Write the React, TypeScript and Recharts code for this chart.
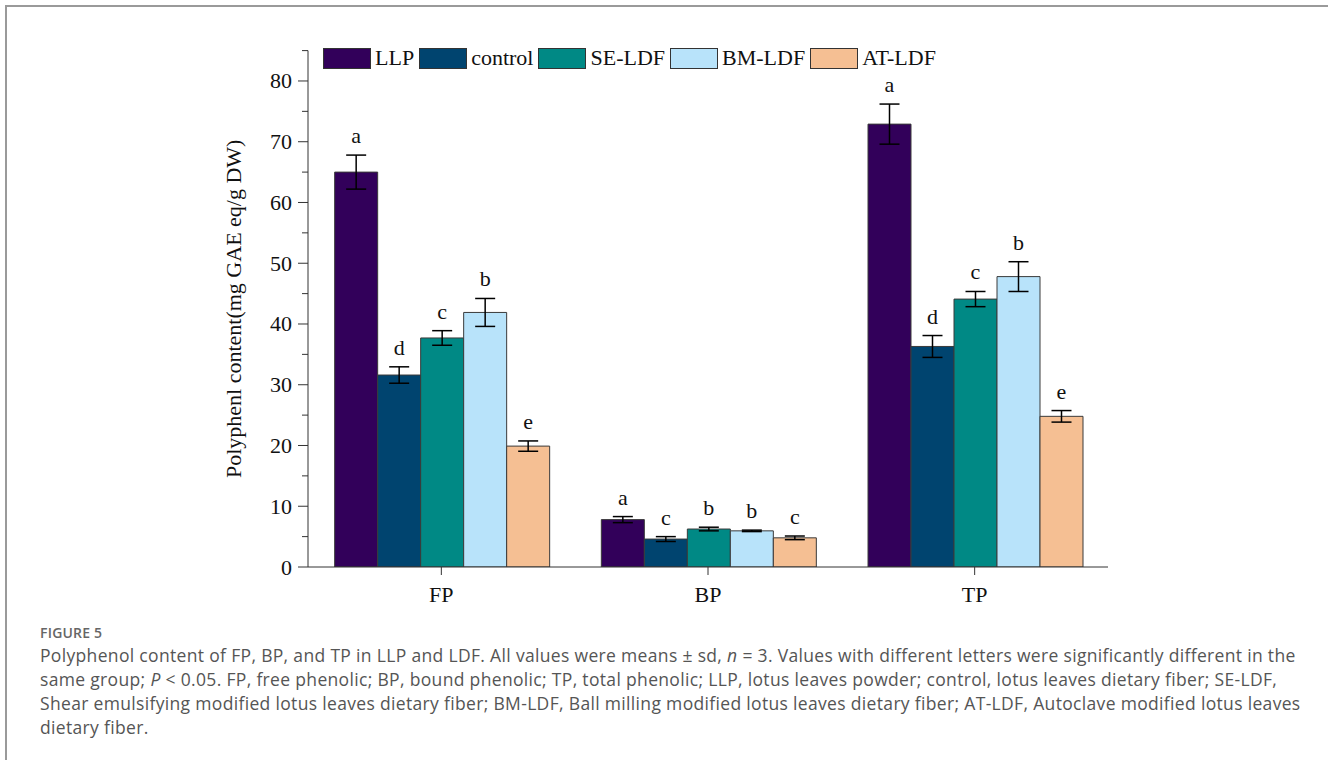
import React from 'react';
import { BarChart, Bar, XAxis, YAxis, ErrorBar, LabelList } from 'recharts';

// Groups on the x axis
const categories = ['FP', 'BP', 'TP'];

// Means (mg GAE eq/g DW), standard deviations and significance letters per sample
const llp = [65.0, 7.8, 72.9];
const llpSd = [2.8, 0.5, 3.3];
const llpSig = ['a', 'a', 'a'];

const control = [31.6, 4.6, 36.3];
const controlSd = [1.35, 0.4, 1.8];
const controlSig = ['d', 'c', 'd'];

const seLdf = [37.7, 6.25, 44.1];
const seLdfSd = [1.2, 0.3, 1.25];
const seLdfSig = ['c', 'b', 'c'];

const bmLdf = [41.9, 5.95, 47.8];
const bmLdfSd = [2.3, 0.12, 2.45];
const bmLdfSig = ['b', 'b', 'b'];

const atLdf = [19.9, 4.8, 24.8];
const atLdfSd = [0.85, 0.3, 0.95];
const atLdfSig = ['e', 'c', 'e'];

const yTicks = [0, 5, 10, 15, 20, 25, 30, 35, 40, 45, 50, 55, 60, 65, 70, 75, 80, 85];

const seriesList = [
  { key: 'LLP', values: llp, sd: llpSd, letters: llpSig, color: '#32005a' },
  { key: 'control', values: control, sd: controlSd, letters: controlSig, color: '#00446f' },
  { key: 'SE-LDF', values: seLdf, sd: seLdfSd, letters: seLdfSig, color: '#008985' },
  { key: 'BM-LDF', values: bmLdf, sd: bmLdfSd, letters: bmLdfSig, color: '#b8e3fa' },
  { key: 'AT-LDF', values: atLdf, sd: atLdfSd, letters: atLdfSig, color: '#f5bf93' },
];

const data = categories.map((group, i) => {
  const row: Record<string, any> = { group };
  seriesList.forEach((s) => {
    row[s.key] = s.values[i];
    row[s.key + '_sd'] = s.sd[i];
    row[s.key + '_sig'] = s.letters[i];
  });
  return row;
});

const SERIF = "'Liberation Serif', 'Times New Roman', serif";
const SANS = "'Open Sans', Lato, sans-serif";
const INK = '#111';
const AXIS = '#333';

// Y ticks: labelled major ticks every 10, short minor ticks in between
const YTick = (props: any) => {
  const { x, y, payload } = props;
  const v = payload.value;
  const major = v % 10 === 0 && v <= 80;
  const len = major ? 10 : 6;
  return (
    <g>
      <line x1={x - len} y1={y} x2={x} y2={y} stroke={AXIS} strokeWidth={1} />
      {major && (
        <text x={x - 16} y={y} textAnchor="end" dominantBaseline="central" fontFamily={SERIF} fontSize={22} fill={INK}>
          {v}
        </text>
      )}
    </g>
  );
};

// Significance letter placed just above the top of the error bar
const makeLetter = (s: (typeof seriesList)[number]) => (props: any) => {
  const { x, y, width, height, index, value } = props;
  const v = s.values[index];
  const pxPerUnit = Math.abs(height) / v;
  const errTop = y - s.sd[index] * pxPerUnit;
  return (
    <text x={x + width / 2} y={errTop - 12} textAnchor="middle" fontFamily={SERIF} fontSize={22} fill={INK}>
      {value}
    </text>
  );
};

const LegendRow = () => (
  <div style={{ display: 'flex', alignItems: 'center', fontFamily: SERIF, fontSize: 22, color: INK, whiteSpace: 'nowrap' }}>
    {seriesList.map((s) => (
      <div key={s.key} style={{ display: 'flex', alignItems: 'center', marginRight: 5 }}>
        <div style={{ width: 46, height: 19, background: s.color, border: '1px solid #333', marginRight: 4 }} />
        <span>{s.key}</span>
      </div>
    ))}
  </div>
);

const YTitle = (props: any) => {
  const { viewBox } = props;
  const cx = 234;
  const cy = viewBox.y + viewBox.height / 2;
  return (
    <text
      x={cx}
      y={cy}
      transform={`rotate(-90, ${cx}, ${cy})`}
      textAnchor="middle"
      dominantBaseline="central"
      fontFamily={SERIF}
      fontSize={22}
      fill={INK}
    >
      Polyphenl content(mg GAE eq/g DW)
    </text>
  );
};

const captionLine: React.CSSProperties = { height: 24, lineHeight: '24px', whiteSpace: 'nowrap' };

export default function App() {
  return (
    <div style={{ position: 'absolute', left: 0, top: 0, width: 1328, height: 760, background: '#fff', overflow: 'hidden' }}>
      <div style={{ position: 'absolute', left: 5, top: 5, width: 1330, height: 760, borderTop: '2px solid #9a9a9a', borderLeft: '2px solid #9a9a9a' }} />
      <div style={{ position: 'absolute', left: 0, top: 0 }}>
        <BarChart
          width={1328}
          height={620}
          data={data}
          margin={{ top: 50.6, right: 220, bottom: 13, left: 0 }}
          barCategoryGap="10%"
          barGap={0}
        >
          <XAxis
            xAxisId="edge"
            type="number"
            domain={[0, 3]}
            ticks={[3]}
            height={0}
            axisLine={false}
            tickSize={6}
            tickLine={{ stroke: AXIS }}
            tick={() => <g />}
          />
          <XAxis
            dataKey="group"
            height={40}
            axisLine={{ stroke: AXIS, strokeWidth: 1 }}
            tickLine={{ stroke: AXIS, strokeWidth: 1 }}
            tickSize={8}
            tickMargin={11}
            tick={{ fontFamily: SERIF, fontSize: 22, fill: INK }}
          />
          <YAxis
            width={308}
            domain={[0, 85]}
            ticks={yTicks}
            interval={0}
            allowDataOverflow
            axisLine={{ stroke: AXIS, strokeWidth: 1 }}
            tickLine={false}
            tickSize={0}
            tickMargin={0}
            tick={<YTick />}
            label={<YTitle />}
          />
          {seriesList.map((s) => (
            <Bar
              key={s.key}
              dataKey={s.key}
              fill={s.color}
              stroke="#3a3a3a"
              strokeWidth={1}
              isAnimationActive={false}
            >
              <ErrorBar dataKey={s.key + '_sd'} width={10} stroke="#000" strokeWidth={1.5} />
              <LabelList dataKey={s.key + '_sig'} content={makeLetter(s)} />
            </Bar>
          ))}
        </BarChart>
      </div>
      <div style={{ position: 'absolute', left: 323, top: 45 }}>
        <LegendRow />
      </div>
      <div style={{ position: 'absolute', left: 40, top: 622, fontFamily: SANS, color: '#555' }}>
        <div style={{ fontSize: 14, fontWeight: 600, letterSpacing: 0.2, height: 21, lineHeight: '21px', color: '#666' }}>FIGURE 5</div>
        <div style={{ fontSize: 17.5, letterSpacing: 0.33 }}>
          <div style={captionLine}>
            Polyphenol content of FP, BP, and TP in LLP and LDF. All values were means ± sd, <i>n</i> = 3. Values with different letters were significantly different in the
          </div>
          <div style={captionLine}>
            same group; <i>P</i> &lt; 0.05. FP, free phenolic; BP, bound phenolic; TP, total phenolic; LLP, lotus leaves powder; control, lotus leaves dietary fiber; SE-LDF,
          </div>
          <div style={captionLine}>
            Shear emulsifying modified lotus leaves dietary fiber; BM-LDF, Ball milling modified lotus leaves dietary fiber; AT-LDF, Autoclave modified lotus leaves
          </div>
          <div style={captionLine}>dietary fiber.</div>
        </div>
      </div>
    </div>
  );
}
